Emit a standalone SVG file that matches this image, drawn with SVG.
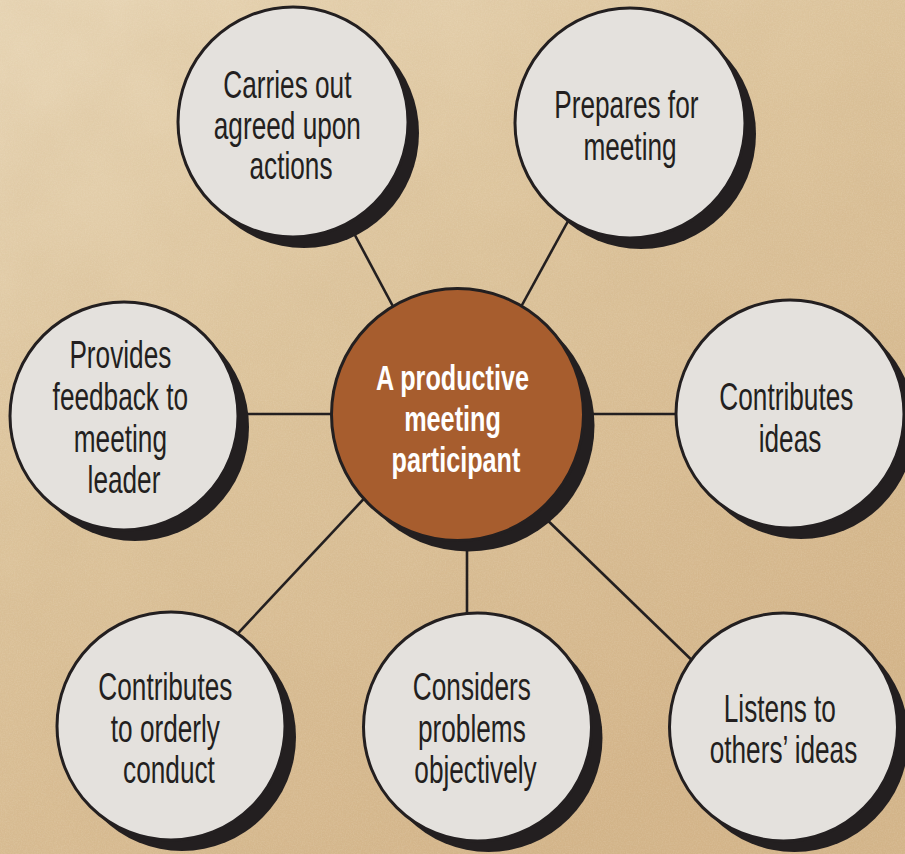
<svg xmlns="http://www.w3.org/2000/svg" width="905" height="854" viewBox="0 0 905 854">
  <defs>
    <linearGradient id="paper" x1="0" y1="0" x2="0.6" y2="1">
      <stop offset="0" stop-color="#e8d6b6"/>
      <stop offset="0.45" stop-color="#dcc39b"/>
      <stop offset="1" stop-color="#d3b489"/>
    </linearGradient>
    <filter id="mottle" x="0" y="0" width="100%" height="100%">
      <feTurbulence type="fractalNoise" baseFrequency="0.012" numOctaves="3" seed="7"/>
      <feColorMatrix type="matrix" values="0 0 0 0 0.62  0 0 0 0 0.45  0 0 0 0 0.25  0.9 0 0 0 -0.3"/>
    </filter>
    <filter id="grain" x="0" y="0" width="100%" height="100%">
      <feTurbulence type="fractalNoise" baseFrequency="0.75" numOctaves="2" seed="3"/>
      <feColorMatrix type="matrix" values="0 0 0 0 0.95  0 0 0 0 0.88  0 0 0 0 0.75  0.7 0 0 0 -0.25"/>
    </filter>
    <style>
      .link { stroke: #231f20; stroke-width: 2.6; fill: none; }
      .shadow { fill: #231f20; }
      .node { fill: #e4e1dd; stroke: #231f20; stroke-width: 3; }
      .hub { fill: #a75d2e; stroke: #231f20; stroke-width: 3; }
      .label { font-family: "Liberation Sans", Arial, sans-serif; font-size: 38px; fill: #231f20; text-anchor: middle; }
      .hub-label { font-family: "Liberation Sans", Arial, sans-serif; font-size: 36px; font-weight: bold; fill: #ffffff; text-anchor: middle; }
    </style>
  </defs>

  <!-- parchment background -->
  <rect width="905" height="854" fill="url(#paper)"/>
  <rect width="905" height="854" filter="url(#mottle)" opacity="0.35"/>
  <rect width="905" height="854" filter="url(#grain)" opacity="0.35"/>

  <g id="connectors">
    <line class="link" x1="345" y1="216.5" x2="404" y2="327"/>
    <line class="link" x1="573" y1="212" x2="516" y2="316"/>
    <line class="link" x1="240" y1="414" x2="340" y2="414"/>
    <line class="link" x1="590" y1="414" x2="685" y2="414"/>
    <line class="link" x1="373" y1="489" x2="228" y2="644"/>
    <line class="link" x1="467" y1="530" x2="467" y2="620"/>
    <line class="link" x1="540" y1="513" x2="702" y2="670"/>
  </g>

  <g id="hub">
    <circle class="shadow" cx="468.5" cy="425.5" r="126"/>
    <circle class="hub" cx="457.5" cy="414.5" r="126"/>
    <text class="hub-label" transform="matrix(0.7 0 0 1 456 0)">
      <tspan x="0" y="390">A productive</tspan>
      <tspan x="0" y="431">meeting</tspan>
      <tspan x="0" y="472">participant</tspan>
    </text>
  </g>

  <g id="carries-out">
    <circle class="shadow" cx="304" cy="133" r="115"/>
    <circle class="node" cx="293" cy="122" r="115"/>
    <text class="label" transform="matrix(0.69 0 0 1 291 0)">
      <tspan x="0" y="98">Carries out</tspan>
      <tspan x="0" y="139">agreed upon</tspan>
      <tspan x="0" y="179">actions</tspan>
    </text>
  </g>

  <g id="prepares">
    <circle class="shadow" cx="641" cy="134" r="115"/>
    <circle class="node" cx="630" cy="123" r="115"/>
    <text class="label" transform="matrix(0.69 0 0 1 630 0)">
      <tspan x="0" y="118">Prepares for</tspan>
      <tspan x="0" y="160">meeting</tspan>
    </text>
  </g>

  <g id="provides-feedback">
    <circle class="shadow" cx="135" cy="427" r="114"/>
    <circle class="node" cx="124" cy="416" r="114"/>
    <text class="label" transform="matrix(0.69 0 0 1 124 0)">
      <tspan x="0" y="368">Provides</tspan>
      <tspan x="0" y="410">feedback to</tspan>
      <tspan x="0" y="452">meeting</tspan>
      <tspan x="0" y="493">leader</tspan>
    </text>
  </g>

  <g id="contributes-ideas">
    <circle class="shadow" cx="801" cy="425" r="114"/>
    <circle class="node" cx="790" cy="414" r="114"/>
    <text class="label" transform="matrix(0.69 0 0 1 790 0)">
      <tspan x="0" y="410">Contributes</tspan>
      <tspan x="0" y="452">ideas</tspan>
    </text>
  </g>

  <g id="listens">
    <circle class="shadow" cx="794.5" cy="738" r="114"/>
    <circle class="node" cx="783.5" cy="727" r="114"/>
    <text class="label" transform="matrix(0.69 0 0 1 783.5 0)">
      <tspan x="0" y="722">Listens to</tspan>
      <tspan x="0" y="763">others’ ideas</tspan>
    </text>
  </g>

  <g id="considers">
    <circle class="shadow" cx="488.5" cy="738" r="114"/>
    <circle class="node" cx="477.5" cy="727" r="114"/>
    <text class="label" transform="matrix(0.69 0 0 1 475.5 0)">
      <tspan x="0" y="700">Considers</tspan>
      <tspan x="0" y="742">problems</tspan>
      <tspan x="0" y="783">objectively</tspan>
    </text>
  </g>

  <g id="orderly-conduct">
    <circle class="shadow" cx="182" cy="737" r="114"/>
    <circle class="node" cx="171" cy="726" r="114"/>
    <text class="label" transform="matrix(0.69 0 0 1 169 0)">
      <tspan x="0" y="700">Contributes</tspan>
      <tspan x="0" y="742">to orderly</tspan>
      <tspan x="0" y="783">conduct</tspan>
    </text>
  </g>
</svg>
